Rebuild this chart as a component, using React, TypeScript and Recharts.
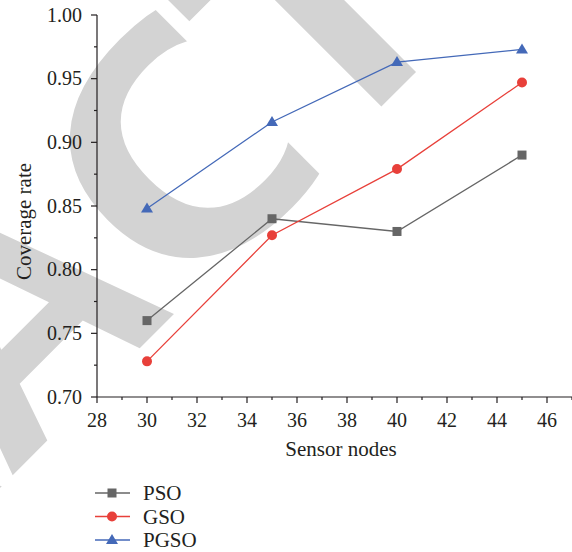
import { LineChart, Line, XAxis, YAxis } from "recharts";

// sensor node counts on the x axis
const nodes = [30, 35, 40, 45];
const psoRate = [0.76, 0.84, 0.83, 0.89];
const gsoRate = [0.728, 0.827, 0.879, 0.947];
const pgsoRate = [0.848, 0.916, 0.963, 0.973];

const xTicks = [28, 29, 30, 31, 32, 33, 34, 35, 36, 37, 38, 39, 40, 41, 42, 43, 44, 45, 46, 47];
const yTicks = [0.7, 0.725, 0.75, 0.775, 0.8, 0.825, 0.85, 0.875, 0.9, 0.925, 0.95, 0.975, 1.0];

const series = [
  { key: "PSO", color: "#666666", shape: "square" },
  { key: "GSO", color: "#e8403a", shape: "circle" },
  { key: "PGSO", color: "#4469b8", shape: "triangle" },
];

const data = nodes.map((n, i) => ({
  nodes: n,
  PSO: psoRate[i],
  GSO: gsoRate[i],
  PGSO: pgsoRate[i],
}));

const FONT = "'Liberation Serif', 'Times New Roman', serif";
const INK = "#231f20";

function Marker({ shape, cx, cy, color }: { shape: string; cx: number; cy: number; color: string }) {
  if (shape === "square") {
    return <rect x={cx - 4.5} y={cy - 4.5} width={9} height={9} fill={color} />;
  }
  if (shape === "circle") {
    return <circle cx={cx} cy={cy} r={5} fill={color} />;
  }
  return <polygon points={`${cx},${cy - 6} ${cx + 6},${cy + 4} ${cx - 6},${cy + 4}`} fill={color} />;
}

const XTick = (props: any) => {
  const { x, y, payload } = props;
  const major = payload.value % 2 === 0;
  return (
    <g>
      <line x1={x} x2={x} y1={y} y2={y + (major ? 6 : 3)} stroke={INK} strokeWidth={1.2} />
      {major && (
        <text x={x} y={y + 30} textAnchor="middle" fontFamily={FONT} fontSize={20} fill={INK}>
          {payload.value}
        </text>
      )}
    </g>
  );
};

const YTick = (props: any) => {
  const { x, y, payload } = props;
  const major = Math.round(payload.value * 1000) % 50 === 0;
  return (
    <g>
      <line x1={x} x2={x - (major ? 6 : 3)} y1={y} y2={y} stroke={INK} strokeWidth={1.2} />
      {major && (
        <text x={x - 15} y={y + 6.8} textAnchor="end" fontFamily={FONT} fontSize={20} fill={INK}>
          {payload.value.toFixed(2)}
        </text>
      )}
    </g>
  );
};

// grey "RETRACTED" stamp behind the figure
const STAMP = {
  fontFamily: "'Liberation Sans', Arial, sans-serif",
  fontWeight: "bold" as const,
  fontSize: 340,
  fill: "#d3d3d3",
};

function Watermark() {
  return (
    <svg width={572} height={552} style={{ position: "absolute", left: 0, top: 0 }}>
      <defs>
        <clipPath id="stampC" clipPathUnits="userSpaceOnUse">
          <rect x={-200} y={0} width={303} height={500} />
        </clipPath>
      </defs>
      <g transform="rotate(-45)">
        <text x={-90} y={345} textAnchor="end" {...STAMP}>
          RETRA
        </text>
        <g clipPath="url(#stampC)">
          <text transform="translate(49,350) scale(1.18,1)" textAnchor="middle" {...STAMP}>
            C
          </text>
        </g>
        <text x={115} y={345} {...STAMP}>
          TED
        </text>
      </g>
    </svg>
  );
}

function Titles() {
  return (
    <svg width={572} height={552} style={{ position: "absolute", left: 0, top: 0, pointerEvents: "none" }}>
      <text x={341} y={456} textAnchor="middle" fontFamily={FONT} fontSize={21} fill={INK}>
        Sensor nodes
      </text>
      <text
        transform="translate(31,221.5) rotate(-90)"
        textAnchor="middle"
        fontFamily={FONT}
        fontSize={21}
        fill={INK}
      >
        Coverage rate
      </text>
    </svg>
  );
}

function LegendBox() {
  return (
    <svg width={160} height={72} style={{ position: "absolute", left: 90, top: 480 }}>
      {series.map((s, i) => {
        const y = 13 + i * 23.5;
        return (
          <g key={s.key}>
            <line x1={5} x2={40} y1={y} y2={y} stroke={s.color} strokeWidth={1.3} />
            <Marker shape={s.shape} cx={22} cy={y} color={s.color} />
            <text x={53} y={y + 7} fontFamily={FONT} fontSize={21} fill={INK}>
              {s.key}
            </text>
          </g>
        );
      })}
    </svg>
  );
}

export default function App() {
  return (
    <div style={{ position: "absolute", left: 0, top: 0, width: 572, height: 552, overflow: "hidden", background: "#fff" }}>
      <Watermark />
      <div style={{ position: "absolute", left: 0, top: 0 }}>
        <LineChart width={572} height={552} data={data} margin={{ top: 15, right: 0, left: 0, bottom: 95 }}>
          <XAxis
            xAxisId="top"
            orientation="top"
            type="number"
            dataKey="nodes"
            domain={[28, 47]}
            height={0}
            tick={false}
            tickLine={false}
            axisLine={{ stroke: INK, strokeWidth: 1.2 }}
          />
          <XAxis
            type="number"
            dataKey="nodes"
            domain={[28, 47]}
            ticks={xTicks}
            interval={0}
            tickSize={0}
            tickMargin={0}
            tickLine={false}
            tick={XTick}
            height={60}
            axisLine={{ stroke: INK, strokeWidth: 1.2 }}
          />
          <YAxis
            type="number"
            domain={[0.7, 1.0]}
            ticks={yTicks}
            interval={0}
            tickSize={0}
            tickMargin={0}
            tickLine={false}
            tick={YTick}
            width={97}
            axisLine={{ stroke: INK, strokeWidth: 1.2 }}
          />
          {series.map((s) => (
            <Line
              key={s.key}
              dataKey={s.key}
              stroke={s.color}
              strokeWidth={1.3}
              isAnimationActive={false}
              dot={(p: any) => (
                <Marker key={`${s.key}-${p.index}`} shape={s.shape} cx={p.cx} cy={p.cy} color={s.color} />
              )}
              activeDot={false}
            />
          ))}
        </LineChart>
      </div>
      <Titles />
      <LegendBox />
    </div>
  );
}
